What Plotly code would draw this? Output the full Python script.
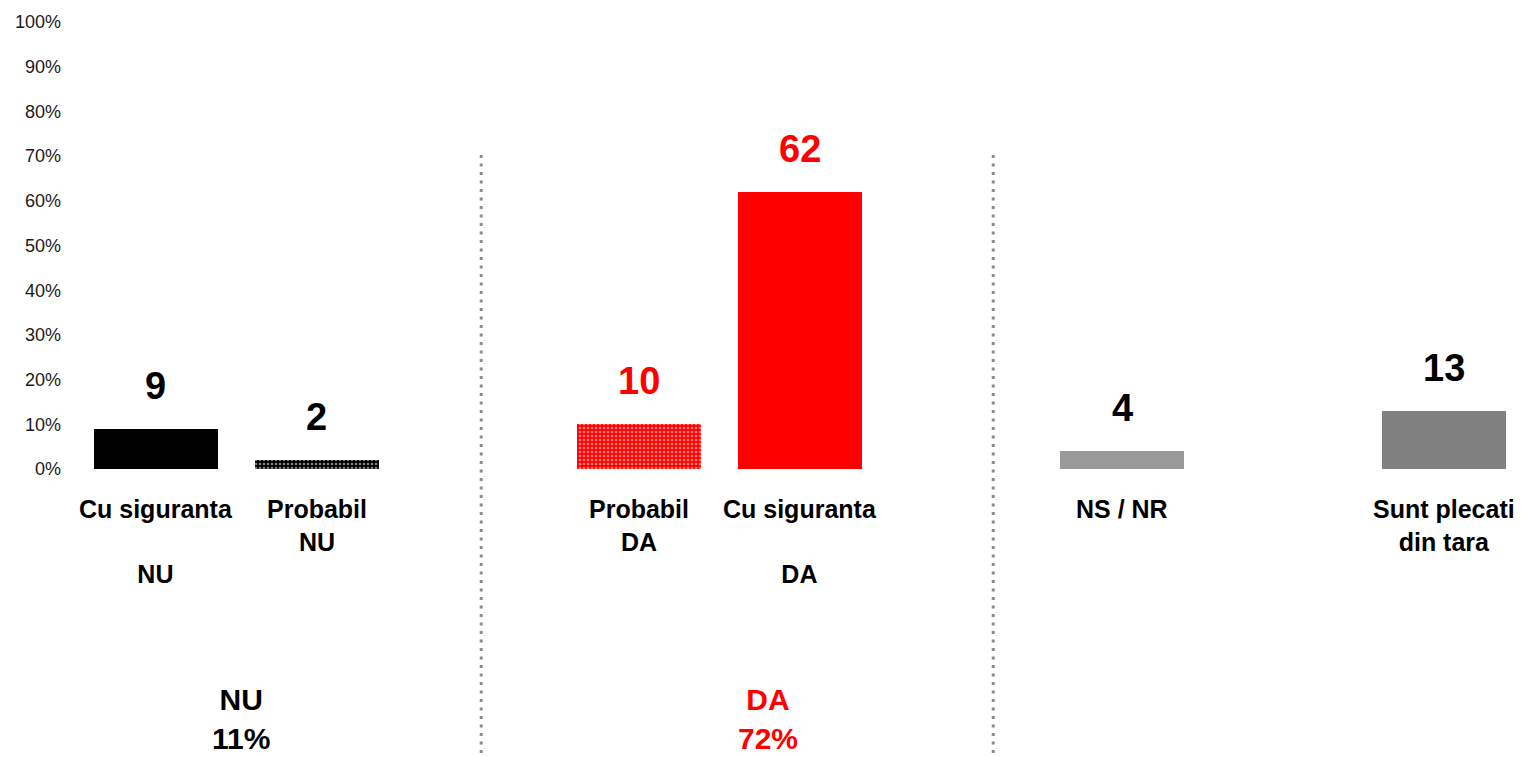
import plotly.graph_objects as go

# ---- data ----
positions = [0, 1, 3, 4, 6, 8]
values = [9, 2, 10, 62, 4, 13]
cat_labels = ["Cu siguranta<br><br>NU", "Probabil<br>NU", "Probabil<br>DA",
              "Cu siguranta<br><br>DA", "NS / NR", "Sunt plecati<br>din tara"]
bar_colors = ["#000000", "#000000", "#ff0000", "#ff0000", "#999999", "#808080"]
pattern_shapes = ["", ".", ".", "", "", ""]
value_colors = ["#000000", "#000000", "#ff0000", "#ff0000", "#000000", "#000000"]
group_names = ["NU", "DA"]
group_members = [[0, 1], [2, 3]]
group_colors = ["#000000", "#ff0000"]
group_label_x = [0.53, 3.8]
separator_x = [2.02, 5.2]
y_ticks = list(range(0, 101, 10))
y_ticktext = [f"{t}%" for t in y_ticks]

FONT = "Liberation Sans, Arial, sans-serif"

fig = go.Figure()
fig.add_trace(go.Bar(
    x=positions, y=values, width=0.765,
    marker=dict(color=bar_colors, line=dict(width=0),
                pattern=dict(shape=pattern_shapes, fgcolor="#ffffff",
                             size=4, solidity=0.35, fillmode="overlay")),
    hoverinfo="skip", showlegend=False,
))

annotations = []
for p, v, c, lab in zip(positions, values, value_colors, cat_labels):
    annotations.append(dict(x=p, y=v, xref="x", yref="y", text=f"<b>{v}</b>",
                            showarrow=False, yanchor="bottom", yshift=20,
                            font=dict(family=FONT, size=38, color=c)))
    annotations.append(dict(x=p, y=0, xref="x", yref="y", text=f"<b>{lab}</b>",
                            showarrow=False, yanchor="top", yshift=-24,
                            font=dict(family=FONT, size=25, color="#000000")))

for name, members, col, gx in zip(group_names, group_members, group_colors, group_label_x):
    total = sum(values[i] for i in members)
    annotations.append(dict(x=gx, y=0, xref="x", yref="paper",
                            text=f"<b>{name}<br>{total}%</b>", showarrow=False,
                            yanchor="top", yshift=-212,
                            font=dict(family=FONT, size=30, color=col)))

shapes = []
for sx in separator_x:
    shapes.append(dict(type="line", xref="x", yref="paper", x0=sx, x1=sx, y0=0.7025, y1=-0.66,
                       line=dict(color="#8c8c8c", width=3, dash="3px,5.5px")))

fig.update_layout(
    width=1522, height=757,
    margin=dict(l=70, r=0, t=22, b=288),
    paper_bgcolor="#ffffff", plot_bgcolor="#ffffff",
    xaxis=dict(range=[-0.534, 8.484], showticklabels=False, showgrid=False,
               zeroline=False, showline=False, fixedrange=True),
    yaxis=dict(range=[0, 100], tickmode="array", tickvals=y_ticks, ticktext=y_ticktext,
               showgrid=False, zeroline=False, showline=False, ticks="",
               ticklabelstandoff=8,
               tickfont=dict(family=FONT, size=18, color="#1a1a1a")),
    annotations=annotations, shapes=shapes,
    bargap=0,
)

fig.write_html("out.html", config={"displayModeBar": False},
               post_script="document.body.style.margin='0';document.body.style.overflow='hidden';")
